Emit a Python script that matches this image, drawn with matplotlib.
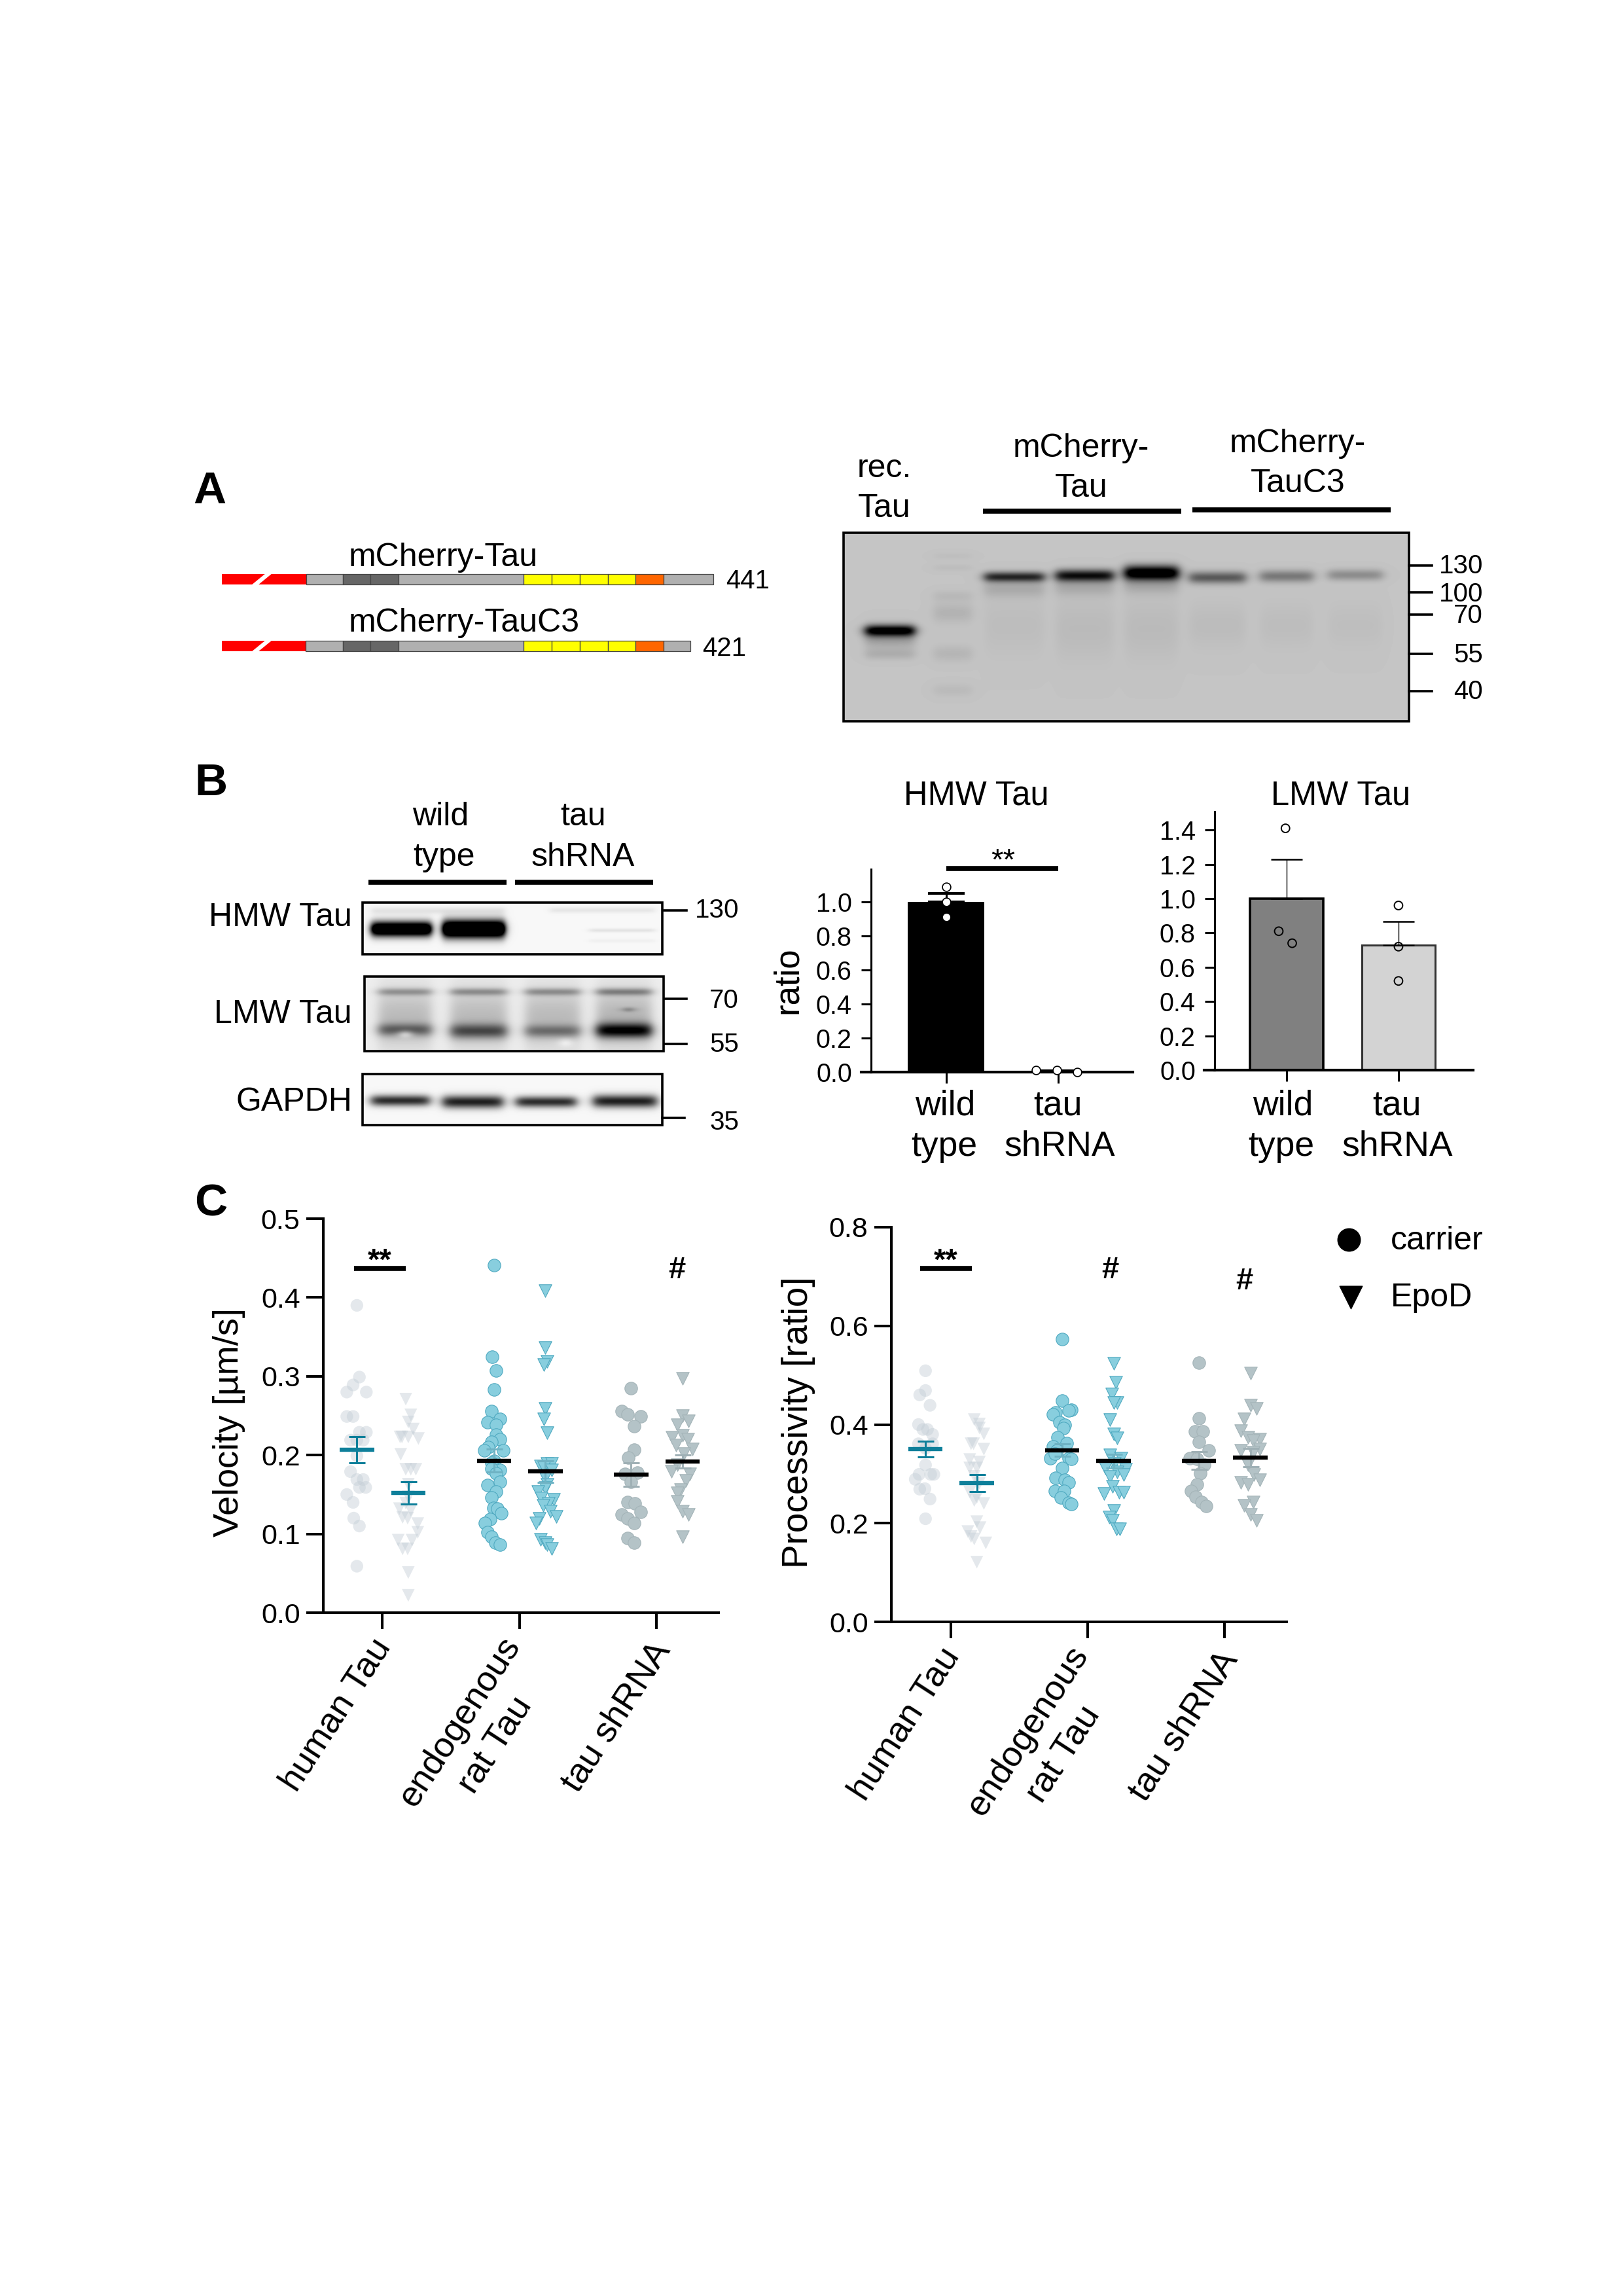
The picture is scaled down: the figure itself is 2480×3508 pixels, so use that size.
#!/usr/bin/env python3
import numpy as np
from matplotlib import pyplot as plt
from matplotlib.patches import Rectangle, Polygon
from matplotlib.transforms import ScaledTranslation

plt.rcParams['font.family'] = ['Liberation Sans', 'DejaVu Sans']

# panel A, domain edges along the bar
tau_edges = [339, 468, 524, 566, 609, 800, 843, 886, 929, 971, 1014, 1090]
tauc3_edges = [339, 467, 524, 566, 609, 800, 843, 886, 929, 971, 1014, 1055]
domain_colors = ['#ff0000', '#b0b0b0', '#666666', '#666666', '#b0b0b0', '#ffff00',
                 '#ffff00', '#ffff00', '#ffff00', '#ff6600', '#b0b0b0']

# blot size markers
blot_a_labels = ['130', '100', '70', '55', '40']
blot_a_ticks = [864, 905, 939, 999, 1056]
blot_a_label_y = [865, 908, 941, 1001, 1057]

# HMW / LMW quantification
bar_labels = ['wild\ntype', 'tau\nshRNA']
hmw_means = [1.0, 0.005]
hmw_err = [0.05, 0.003]
hmw_wt = [1.09, 1.0, 0.91]
hmw_sh = [0.01, 0.01, 0.0]
hmw_sh_off = [-0.195, -0.01, 0.17]
lmw_means = [1.0, 0.73]
lmw_err = [0.23, 0.135]
lmw_wt = [1.41, 0.81, 0.74]
lmw_wt_off = [-0.01, -0.07, 0.05]
lmw_sh = [0.96, 0.72, 0.52]

# panel C
groups = ['human Tau', 'endogenous\nrat Tau', 'tau shRNA']

vel_hu_c = [.390, .299, .289, .280, .280, .249, .249, .229, .229, .219, .219, .219, .199, .179, .169, .169,
            .159, .159, .150, .140, .120, .110, .059]
vel_hu_c_j = [0, .4, -.6, -1.6, 1.5, -1.6, -.6, .4, 1.5, -1, 0, 1, 0, -1, 0, 1, .4, 1.4, -1.6, -.6, -.5, .4, 0]
vel_hu_e = [.271, .251, .242, .233, .223, .223, .223, .221, .201, .182, .182, .182, .163, .147, .139, .132, .130,
            .121, .120, .113, .102, .092, .092, .081, .081, .051, .022]
vel_hu_e_j = [-.4, .4, 0, .8, -1.3, -1, 0, 1.6, -1.2, -.4, .4, 1.2, 0, 0, -.4, -1.4, .4, -.9, -.1, 1.5, 1.5, -1.6,
              .6, -.9, -.1, 0, 0]
vel_en_c = [.441, .325, .307, .283, .256, .246, .242, .238, .226, .220, .217, .210, .206, .206, .193, .190, .181,
            .183, .177, .166, .162, .154, .146, .133, .132, .126, .119, .114, .102, .096, .089, .086]
vel_en_c_j = [0, -.3, .3, 0, -.4, 1, -1, .3, .3, 1, -.4, -.9, -1.5, 1.5, 0, -.4, 1, -.4, .3, .9, -1, .3, -.4, -.1,
              .5, 1.2, -.6, -1.4, -1, -.4, .2, 1]
vel_en_e = [.409, .336, .319, .315, .259, .246, .228, .186, .189, .189, .184, .181, .172, .163, .159, .154, .144,
            .145, .139, .136, .129, .122, .120, .114, .093, .089, .086, .081]
vel_en_e_j = [0, 0, .3, -.3, 0, -.3, .3, -.8, .3, 1, -.3, 1, 0, .3, 0, -1.2, 1.3, -.7, .5, -.4, .8, 1.7, -1, -1.5,
              -.8, 0, .3, 1]
vel_sh_c = [.285, .256, .252, .249, .237, .207, .197, .178, .176, .166, .140, .139, .128, .125, .120, .114, .095,
            .089]
vel_sh_c_j = [0, -1.5, -.6, 1.5, .5, .5, -.5, 1, -1, 0, -.6, .6, 1.5, -1.5, -.6, .5, -.6, .5]
vel_sh_e = [.297, .250, .243, .238, .225, .223, .220, .213, .208, .202, .188, .179, .176, .168, .156, .152, .141,
            .129, .125, .096]
vel_sh_e_j = [0, 0, .9, -.8, 0, -1.6, .8, -1, 1.6, .2, -.8, -1.8, 1.2, .5, -.3, -.8, -.8, 0, .9, 0]

pro_hu_c = [.509, .469, .460, .439, .400, .390, .390, .380, .361, .361, .352, .318, .299, .299, .299, .289, .270,
            .269, .249, .209]
pro_hu_c_j = [0, 0, -.9, .7, -1.1, .3, -.4, 1.1, -1.1, 1.1, 0, 0, -1, 1.3, .8, -1.6, -.1, -.9, .7, 0]
pro_hu_e = [.410, .401, .393, .381, .361, .361, .350, .329, .324, .312, .312, .295, .281, .263, .252, .246, .240,
            .203, .191, .183, .173, .168, .160, .121]
pro_hu_e_j = [-.4, .4, .4, 1.1, -.9, -.5, 1.1, -1.1, .4, -1.1, 0, -.4, .4, -1.1, 0, -.4, 1.1, 0, .5, -1.4, -.9, -.4,
              1.4, 0]
pro_en_c = [.573, .449, .430, .429, .425, .421, .404, .400, .393, .374, .362, .355, .347, .332, .330, .332, .341,
            .312, .292, .288, .282, .265, .266, .252, .242, .239]
pro_en_c_j = [0, 0, 1.4, 1, -1, -1.4, -.4, .4, .2, -.7, .7, -1.4, -.8, 1, 1.4, -1.9, -1.1, 0, -1, .4, 1, -1.1, .3,
              -.2, 1, 1.4]
pro_en_e = [.524, .486, .462, .444, .444, .410, .381, .373, .338, .332, .321, .312, .309, .304, .298, .295, .275,
            .260, .263, .263, .226, .212, .206, .189, .189]
pro_en_e_j = [0, .3, -.3, .5, 0, -.6, 0, .5, -.6, 1.2, .1, -1.3, 1.9, .5, 1.6, -.6, -.2, -1.5, .9, 1.6, 0, -.7, -.2,
              .4, 1]
pro_sh_c = [.526, .413, .386, .386, .365, .348, .332, .330, .318, .301, .278, .265, .253, .243, .235]
pro_sh_c_j = [0, 0, -.6, .6, 0, 1.5, -1.4, -.3, .8, .2, -.3, -1.2, -.5, .4, 1.1]
pro_sh_e = [.504, .439, .433, .411, .388, .374, .370, .367, .350, .347, .344, .318, .298, .283, .288, .278, .243,
            .236, .217, .206]
pro_sh_e_j = [0, 0, 1, -1, -1.5, -.4, 1.5, .4, 1.5, -1.5, .4, -.4, .5, -1.5, 1.5, -.4, .4, -1, 0, 1]

vel_means = [.207, .152, .193, .179, .175, .192]
vel_sem = [.0165, .014, .0145, .014, .015, .0085]
pro_means = [.350, .281, .348, .326, .327, .333]
pro_sem = [.016, .0175, .013, .014, .0175, .018]


def px_axes(l, t, r, b):
    return fig.add_axes([l/W, 1-b/H, (r-l)/W, (b-t)/H])


def label(x, y, s, fs=36, ha='center', va='center', **kw):
    pg.text(x, y, s, fontsize=fs, ha=ha, va=va, **kw)


def blot(x0, x1, y0, y1, bg, bands, soft=9.0):
    # bands: x left, x right, y centre, y sigma, darkness
    X, Y = np.meshgrid(np.arange(x0, x1), np.arange(y0, y1))
    img = np.full(X.shape, bg, dtype=float)
    for a, b, yc, sig, amp in bands:
        xp = 0.5*(np.tanh((X-a)/soft)-np.tanh((X-b)/soft))
        img -= amp*xp*np.exp(-0.5*((Y-yc)/sig)**2)
    pg.imshow(np.clip(img, 0, 1), cmap='gray', vmin=0, vmax=1, extent=[x0, x1, y1, y0], aspect='auto',
              interpolation='bilinear')
    pg.add_patch(Rectangle((x0, y0), x1-x0, y1-y0, fill=False, ec='black', lw=2.6))


def swarm(ax, cx, vals, jit, step, marker, color, edge=None, alpha=1.0):
    xs = cx+np.array(jit)*step
    ax.scatter(xs, vals, s=195, marker=marker, color=color, edgecolors=edge if edge else 'none',
               linewidths=0.8, alpha=alpha, zorder=3, clip_on=False)


def mean_sem(ax, cx, m, e, color, barcolor):
    ax.errorbar([cx], [m], yerr=[e], color=barcolor, capsize=9, elinewidth=2.2, capthick=2.2, zorder=4, fmt='none')
    ax.plot([cx-0.125, cx+0.125], [m, m], color=color, lw=4.6, solid_capstyle='butt', zorder=5)


def style_c(ax, ymax, yticks):
    ax.spines[['top', 'right']].set_visible(False)
    ax.spines[['left', 'bottom']].set_linewidth(2.9)
    ax.patch.set_alpha(0)
    ax.set_ylim(0, ymax)
    ax.set_yticks(yticks)
    ax.set_yticklabels(['%.1f' % v for v in yticks])
    ax.tick_params(axis='y', length=18.5, width=2.9, labelsize=31, pad=7)
    ax.tick_params(axis='x', length=18, width=2.9, labelsize=39, pad=14)
    ax.set_xticks([0, 1, 2])
    ax.set_xticklabels(groups, rotation=57, ha='right', va='center', rotation_mode='anchor', linespacing=1.35,
                       multialignment='center')
    shifts = [(0.02, 0.0), (0.17, -0.15), (0.10, -0.05)]
    for lab, (dx, dy) in zip(ax.get_xticklabels(), shifts):
        lab.set_transform(lab.get_transform()+ScaledTranslation(dx, dy, fig.dpi_scale_trans))


W, H = 2480, 3508
fig = plt.figure(figsize=(W/100, H/100), dpi=100)
pg = fig.add_axes([0, 0, 1, 1])

# ---- A
label(320, 751, 'A', fs=50, fontweight='bold')
for edges, y0, y1 in [(tau_edges, 877, 893), (tauc3_edges, 979, 995)]:
    for i, c in enumerate(domain_colors):
        pg.add_patch(Rectangle((edges[i], y0), edges[i+1]-edges[i], y1-y0, fc=c,
                               ec='none' if i == 0 else '#444444', lw=0.9))
    pg.add_patch(Polygon([[384, y1+1], [394, y1+1], [416, y0-1], [406, y0-1]], fc='white', ec='none', zorder=3))
label(533, 852, 'mCherry-Tau', ha='left')
label(533, 952, 'mCherry-TauC3', ha='left')
label(1109, 888, '441', fs=29, ha='left')
label(1073, 991, '421', fs=29, ha='left')

bands_a = [(1322, 1397, 963, 6, 0.78), (1322, 1397, 972, 12, 0.18), (1322, 1397, 999, 6, 0.08),
           (1426, 1485, 849, 4, 0.025), (1426, 1485, 867, 4, 0.03), (1426, 1485, 910, 6, 0.045),
           (1426, 1485, 936, 11, 0.07), (1426, 1485, 998, 9, 0.06), (1426, 1485, 1054, 7, 0.04),
           (1504, 1595, 881, 5.5, 0.62), (1613, 1701, 879, 6.5, 0.72), (1718, 1800, 875, 8, 0.95),
           (1817, 1903, 882, 6.5, 0.42), (1925, 2006, 880, 6.5, 0.3), (2029, 2112, 878, 6, 0.22),
           (1504, 1595, 899, 9, 0.1), (1613, 1701, 897, 9, 0.1), (1718, 1800, 895, 9, 0.1),
           (1504, 1595, 955, 34, 0.03), (1613, 1701, 960, 36, 0.04), (1718, 1800, 960, 36, 0.04),
           (1817, 1903, 955, 26, 0.035), (1925, 2006, 955, 26, 0.03), (2029, 2112, 955, 26, 0.025)]
blot(1289, 2153, 814, 1102, 0.77, bands_a)
for y in blot_a_ticks:
    pg.plot([2153, 2188], [y, y], color='black', lw=2.6)
for s, y in zip(blot_a_labels, blot_a_label_y):
    label(2266, y, s, fs=29, ha='right')
label(1351, 716, 'rec.')
label(1351, 777, 'Tau')
label(1652, 685, 'mCherry-')
label(1652, 746, 'Tau')
label(1983, 678, 'mCherry-')
label(1983, 739, 'TauC3')
pg.plot([1502, 1805], [781, 781], color='black', lw=5.5, solid_capstyle='butt')
pg.plot([1822, 2125], [779, 779], color='black', lw=5.5, solid_capstyle='butt')

# ---- B blots
label(322, 1197, 'B', fs=50, fontweight='bold')
label(673, 1248, 'wild')
label(678, 1310, 'type')
label(891, 1248, 'tau')
label(891, 1310, 'shRNA')
pg.plot([563, 774], [1348, 1348], color='black', lw=5.5, solid_capstyle='butt')
pg.plot([787, 998], [1348, 1348], color='black', lw=5.5, solid_capstyle='butt')
label(538, 1402, 'HMW Tau', ha='right')
label(538, 1550, 'LMW Tau', ha='right')
label(538, 1684, 'GAPDH', ha='right')

blot(554, 1012, 1379, 1458, 0.97, [(567, 659, 1419, 8, 1.5), (676, 771, 1419, 9.5, 1.7), (567, 771, 1391, 4, 0.08),
                                   (840, 1000, 1390, 3, 0.07), (900, 1000, 1421, 2, 0.08), (900, 1000, 1437, 2, 0.03)],
     soft=6.0)
blot(557, 1014, 1492, 1606, 0.93,
     [(578, 659, 1515, 4, 0.28), (688, 774, 1515, 4, 0.3), (802, 886, 1515, 4, 0.3), (911, 995, 1515, 4, 0.35),
      (578, 659, 1555, 32, 0.2), (688, 774, 1555, 32, 0.2), (802, 886, 1555, 32, 0.2), (911, 995, 1555, 32, 0.22),
      (578, 659, 1573, 7, 0.42), (688, 774, 1575, 8, 0.5), (802, 886, 1575, 7, 0.35), (911, 995, 1574, 8, 0.8),
      (955, 965, 1542, 2.5, 0.4), (612, 626, 1579, 4, -0.45), (858, 870, 1592, 5, -0.2)], soft=10.0)
blot(554, 1012, 1641, 1719, 0.97, [(567, 656, 1681, 6, 0.8), (676, 768, 1683, 7, 0.85), (788, 880, 1683, 6, 0.8),
                                   (906, 1003, 1682, 7, 0.85)])
for y0, x0 in [(1391, 1015), (1526, 1015), (1595, 1015), (1708, 1012)]:
    pg.plot([x0, x0+34], [y0, y0], color='black', lw=2.6)
for s, y in [('130', 1391), ('70', 1529), ('55', 1596), ('35', 1715)]:
    label(1129, y, s, fs=29, ha='right')

# ---- B bars
ax = px_axes(1331, 1328, 1731, 1638)
ax.bar([0, 1], hmw_means, width=0.684, color='black', zorder=2)
ax.errorbar([0, 1], hmw_means, yerr=[[0, 0], hmw_err], color='black', fmt='none', capsize=20, elinewidth=2.2,
            capthick=3, zorder=2)
ax.scatter([0, 0, 0], hmw_wt, s=85, color='white', edgecolors='black', linewidths=1.2, zorder=3)
ax.scatter(1+np.array(hmw_sh_off), hmw_sh, s=85, color='white', edgecolors='black', linewidths=1.2, zorder=3,
           clip_on=False)
ax.set_xlim(-0.67, 1.667)
ax.set_ylim(0, 310/260)
ax.set_yticks(np.arange(0, 1.01, 0.2))
ax.set_xticks([0, 1])
ax.set_xticklabels([])

ax2 = px_axes(1856, 1240, 2251, 1635)
ax2.bar([0], lmw_means[0], width=0.66, color='#808080', edgecolor='black', linewidth=2.6, zorder=2)
ax2.bar([1], lmw_means[1], width=0.66, color='#d3d3d3', edgecolor='#333333', linewidth=2.2, zorder=2)
ax2.errorbar([0, 1], lmw_means, yerr=[[0, 0], lmw_err], color='black', fmt='none', capsize=17, elinewidth=1.0,
             capthick=1.8, zorder=2)
ax2.scatter(lmw_wt_off, lmw_wt, s=85, facecolors='none', edgecolors='black', linewidths=1.4, zorder=3)
ax2.scatter([1, 1, 1], lmw_sh, s=85, facecolors='none', edgecolors='black', linewidths=1.4, zorder=3)
ax2.set_xlim(-0.643, 1.667)
ax2.set_ylim(0, 395/262)
ax2.set_yticks(np.arange(0, 1.41, 0.2))
ax2.set_xticks([0, 1])
ax2.set_xticklabels([])
for a in (ax, ax2):
    a.spines[['top', 'right']].set_visible(False)
    a.spines['left'].set_linewidth(2.2)
    a.spines['bottom'].set_linewidth(3)
    a.patch.set_alpha(0)
    a.tick_params(axis='y', length=11, width=2.2, labelsize=28.5, pad=10)
    a.tick_params(axis='x', length=12, width=2.2)
pg.plot([1316, 1331], [1638, 1638], color='black', lw=3)
pg.plot([1840, 1856], [1635, 1635], color='black', lw=3)

label(1492, 1216, 'HMW Tau', fs=36.5)
label(2049, 1216, 'LMW Tau', fs=36.5)
label(1204, 1498, 'ratio', fs=38, rotation=90)
pg.plot([1446, 1617], [1327, 1327], color='black', lw=5.5, solid_capstyle='butt')
label(1533, 1317, '**', fs=34)
for cx_w, cx_t, lab in [(1444, 1443, 0), (1617, 1619, 1), (1960, 1958, 0), (2134, 2135, 1)]:
    l1, l2 = bar_labels[lab].split('\n')
    label(cx_w, 1690, l1, fs=38.5)
    label(cx_t, 1752, l2, fs=38.5)

# ---- C velocity
label(322, 1839, 'C', fs=50, fontweight='bold')
hu, en, sh = '#c4ced6', '#88cede', '#b4c3c7'
vx = px_axes(494, 1862, 1098, 2464)
off_c, off_e = -0.185, 0.19
swarm(vx, off_c, vel_hu_c, vel_hu_c_j, 0.046, 'o', hu, alpha=0.45)
swarm(vx, off_e, vel_hu_e, vel_hu_e_j, 0.046, 'v', hu, alpha=0.45)
swarm(vx, 1+off_c, vel_en_c, vel_en_c_j, 0.046, 'o', en, edge='#4fa9c0')
swarm(vx, 1+off_e, vel_en_e, vel_en_e_j, 0.046, 'v', en, edge='#4fa9c0')
swarm(vx, 2+off_c, vel_sh_c, vel_sh_c_j, 0.046, 'o', sh, edge='#a4b4b8')
swarm(vx, 2+off_e, vel_sh_e, vel_sh_e_j, 0.046, 'v', sh, edge='#a4b4b8')
for i, (m, e) in enumerate(zip(vel_means, vel_sem)):
    cx = i//2+(off_c if i % 2 == 0 else off_e)
    col = '#0e7f9a' if i < 2 else 'black'
    barcol = '#0e7f9a' if i < 2 else ('#6fb3c4' if i < 4 else '#9fb0b5')
    mean_sem(vx, cx, m, e, col, barcol)
vx.set_xlim(-0.43, 2.453)
style_c(vx, 0.5, [0, .1, .2, .3, .4, .5])
label(350, 2173, 'Velocity [µm/s]', fs=39, rotation=90)
pg.plot([541, 620], [1938, 1938], color='black', lw=5.5, solid_capstyle='butt')
label(580, 1928, '**', fs=34, fontweight='bold')
label(1034, 1941, '#', fs=34, fontweight='bold')

# ---- C processivity
pr = px_axes(1362, 1875, 1966, 2478)
swarm(pr, off_c, pro_hu_c, pro_hu_c_j, 0.047, 'o', hu, alpha=0.45)
swarm(pr, off_e, pro_hu_e, pro_hu_e_j, 0.047, 'v', hu, alpha=0.45)
swarm(pr, 1+off_c, pro_en_c, pro_en_c_j, 0.047, 'o', en, edge='#4fa9c0')
swarm(pr, 1+off_e, pro_en_e, pro_en_e_j, 0.047, 'v', en, edge='#4fa9c0')
swarm(pr, 2+off_c, pro_sh_c, pro_sh_c_j, 0.047, 'o', sh, edge='#a4b4b8')
swarm(pr, 2+off_e, pro_sh_e, pro_sh_e_j, 0.047, 'v', sh, edge='#a4b4b8')
for i, (m, e) in enumerate(zip(pro_means, pro_sem)):
    cx = i//2+(off_c if i % 2 == 0 else off_e)
    col = '#0e7f9a' if i < 2 else 'black'
    barcol = '#0e7f9a' if i < 2 else ('#6fb3c4' if i < 4 else '#9fb0b5')
    mean_sem(pr, cx, m, e, col, barcol)
pr.set_xlim(-0.435, 2.455)
style_c(pr, 0.8, [0, .2, .4, .6, .8])
label(1220, 2173, 'Processivity [ratio]', fs=39.5, rotation=90)
pg.plot([1406, 1485], [1938, 1938], color='black', lw=5.5, solid_capstyle='butt')
label(1445, 1928, '**', fs=34, fontweight='bold')
label(1696, 1941, '#', fs=34, fontweight='bold')
label(1901, 1958, '#', fs=34, fontweight='bold')

# legend
pg.scatter([2061], [1894], s=620, marker='o', color='black')
pg.scatter([2064], [1982], s=620, marker='v', color='black')
label(2125, 1896, 'carrier', fs=36, ha='left')
label(2125, 1983, 'EpoD', fs=36, ha='left')

pg.set_xlim(0, W)
pg.set_ylim(H, 0)
pg.axis('off')

plt.savefig('out.png', dpi=100)
